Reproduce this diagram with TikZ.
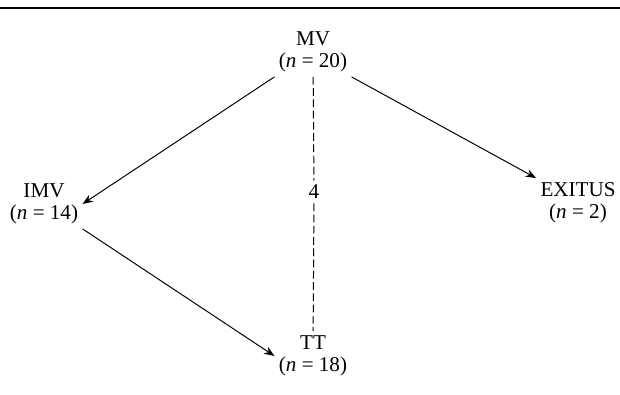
\documentclass[tikz,border=0pt]{standalone}
\usepackage{fontspec}
\setmainfont{Liberation Serif}
\usepackage{tikz}
\usetikzlibrary{arrows.meta,positioning}

\begin{document}
\begin{tikzpicture}[
    state/.style={align=center,inner sep=3pt,font=\fontsize{15}{16}\selectfont},
    arr/.style={-{Stealth[length=2.6mm,width=2mm]},line width=0.7pt},
    link/.style={line width=0.7pt,dash pattern=on 5.5pt off 2.5pt}
  ]
    \useasboundingbox (0,0) rectangle (15.5,9.875);
    \draw[line width=0.9pt] (0,9.675) -- (15.5,9.675);
    \node[state] (mv) at (7.825,8.575) {MV\\(\textit{n} = 20)};
    \node[state] (imv) at (1.1,4.775) {IMV\\(\textit{n} = 14)};
    \node[state] (exitus) at (14.45,4.8) {EXITUS\\(\textit{n} = 2)};
    \node[state] (tt) at (7.825,0.975) {TT\\(\textit{n} = 18)};
    \node[state] (four) at (7.85,5.075) {4};
    \draw[arr] (mv.south west) -- (imv.east);
    \draw[arr] (mv.south east) -- (exitus.north west);
    \draw[arr] (imv.south east) -- (tt.west);
    \draw[link] (mv) -- (four);
    \draw[link] (four) -- (tt);
\end{tikzpicture}
\end{document}
